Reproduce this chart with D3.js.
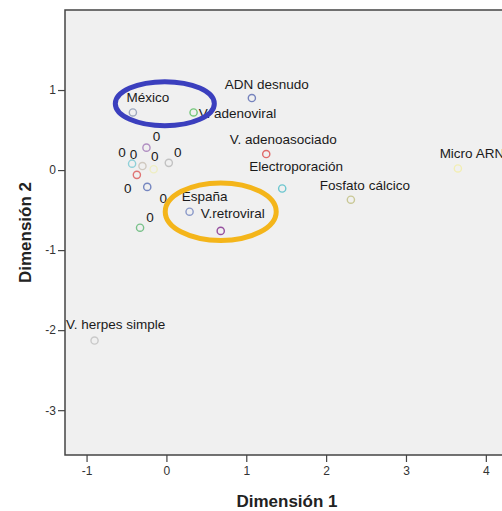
<!DOCTYPE html>
<html>
<head>
<meta charset="utf-8">
<script src="https://cdn.jsdelivr.net/npm/d3@7"></script>
<style>
  html, body { margin: 0; padding: 0; background: #fff; }
  svg { display: block; font-family: "Liberation Sans", Arial, sans-serif; }
</style>
</head>
<body>
<svg id="chart" width="502" height="511"></svg>
<script>
// ---- data ----
const labels = ["México", "V. adenoviral", "ADN desnudo", "V. adenoasociado", "Electroporación",
  "Fosfato cálcico", "Micro ARN", "España", "V.retroviral", "V. herpes simple",
  "0", "0", "0", "0", "0", "0", "0", "0"];
const dim1 = [-0.42, 0.34, 1.07, 1.25, 1.45, 2.31, 3.65, 0.29, 0.68, -0.90,
  -0.25, -0.43, -0.30, -0.16, 0.03, -0.37, -0.24, -0.33];
const dim2 = [0.72, 0.72, 0.90, 0.20, -0.23, -0.37, 0.02, -0.52, -0.76, -2.13,
  0.28, 0.08, 0.05, 0.01, 0.09, -0.06, -0.21, -0.72];
const xTicks = [-1, 0, 1, 2, 3, 4];
const yTicks = [1, 0, -1, -2, -3];
const xTitle = "Dimensión 1";
const yTitle = "Dimensión 2";
// annotation ellipses (data units)
const ellipseCx = [-0.02, 0.68];
const ellipseCy = [0.83, -0.52];
const ellipseRx = [0.62, 0.695];
const ellipseRy = [0.275, 0.36];

// ---- styling / layout ----
const pointColors = ["#9ea9bf", "#74c77a", "#7683bd", "#e06a6a", "#6cc6cf",
  "#c9c896", "#f2eeb4", "#8a99c9", "#96509f", "#c9c9c9",
  "#b18fc2", "#8fd0d8", "#d0c9c0", "#eeeec2", "#c2c2c2", "#e07474", "#7586c0", "#79c18a"];
const labelOffsets = [[15, -15], [44, 1], [15, -14], [17, -15], [14, -22], [14, -14], [14, -15],
  [15, -15], [12, -17], [21, -16],
  [10, -11], [-10, -11], [-9, -12], [1, -13], [9, -10], [-9, 14], [16, 12], [10, -10]];
const ellipseColors = ["#3b3fbe", "#f4b51a"];

const svg = d3.select("#chart");
const plot = { left: 65, top: 10, right: 509, bottom: 455 };
const x = d3.scaleLinear().domain([-1.27, 4.29]).range([plot.left, plot.right]);
const y = d3.scaleLinear().domain([2.0, -3.56]).range([plot.top, plot.bottom]);

svg.append("rect")
  .attr("x", plot.left).attr("y", plot.top)
  .attr("width", plot.right - plot.left).attr("height", plot.bottom - plot.top)
  .attr("fill", "#f0f0f0").attr("stroke", "#444").attr("stroke-width", 1.5);

const yAxis = svg.append("g")
  .attr("transform", `translate(${plot.left},0)`)
  .call(d3.axisLeft(y).tickValues(yTicks).tickFormat(d3.format("d")).tickSize(7).tickPadding(2).tickSizeOuter(0));
const xAxis = svg.append("g")
  .attr("transform", `translate(0,${plot.bottom})`)
  .call(d3.axisBottom(x).tickValues(xTicks).tickFormat(d3.format("d")).tickSize(7).tickPadding(4).tickSizeOuter(0));
[xAxis, yAxis].forEach(g => {
  g.select(".domain").remove();
  g.selectAll(".tick line").attr("stroke", "#444").attr("stroke-width", 1.2);
  g.selectAll(".tick text").attr("fill", "#333").style("font-size", "12px")
    .style("font-family", "'Liberation Sans', Arial, sans-serif");
});
yAxis.selectAll(".tick text").text(d => d < 0 ? "-" + Math.abs(d) : d);
xAxis.selectAll(".tick text").text(d => d < 0 ? "-" + Math.abs(d) : d);

const idx = d3.range(labels.length);
const pts = svg.append("g");
pts.selectAll("circle").data(idx).join("circle")
  .attr("cx", i => x(dim1[i])).attr("cy", i => y(dim2[i]))
  .attr("r", 3.6).attr("fill", "none")
  .attr("stroke", i => pointColors[i]).attr("stroke-width", 1.4);

pts.selectAll("text").data(idx).join("text")
  .attr("x", i => x(dim1[i]) + labelOffsets[i][0])
  .attr("y", i => y(dim2[i]) + labelOffsets[i][1])
  .attr("text-anchor", "middle").attr("dominant-baseline", "central")
  .attr("fill", "#1a1a1a").style("font-size", "13.5px")
  .text(i => labels[i]);

svg.append("g").selectAll("ellipse").data(d3.range(ellipseCx.length)).join("ellipse")
  .attr("cx", i => x(ellipseCx[i])).attr("cy", i => y(ellipseCy[i]))
  .attr("rx", i => x(ellipseRx[i]) - x(0)).attr("ry", i => y(0) - y(ellipseRy[i]))
  .attr("fill", "none").attr("stroke", i => ellipseColors[i]).attr("stroke-width", 5);

svg.append("text")
  .attr("x", (plot.left + plot.right) / 2).attr("y", 507)
  .attr("text-anchor", "middle").style("font-size", "17px").style("font-weight", "bold")
  .attr("fill", "#222").text(xTitle);
svg.append("text")
  .attr("transform", `translate(31,${(plot.top + plot.bottom) / 2}) rotate(-90)`)
  .attr("text-anchor", "middle").style("font-size", "17px").style("font-weight", "bold")
  .attr("fill", "#222").text(yTitle);
</script>
</body>
</html>
